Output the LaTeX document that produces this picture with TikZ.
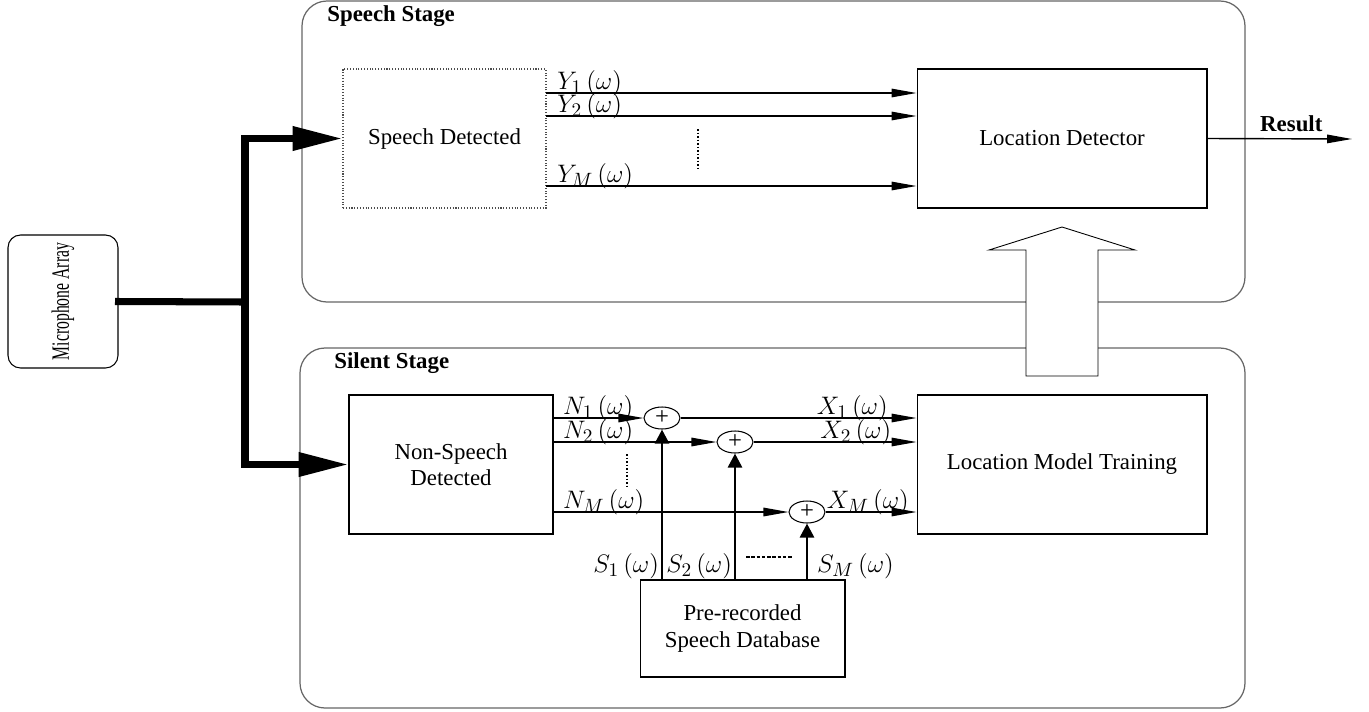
\documentclass[tikz,border=0pt]{standalone}
\usepackage{fontspec}
\setmainfont{Liberation Serif}
\usetikzlibrary{shapes.geometric, arrows.meta, positioning}

\begin{document}
\begin{tikzpicture}[
    x=0.02cm, y=-0.02cm,
    font=\fontsize{13}{15}\selectfont,
    block/.style={rectangle, draw, line width=0.6pt, align=center},
    stage/.style={draw=black!60, line width=0.7pt, rounded corners=0.5cm},
    stagelabel/.style={anchor=west, inner sep=0pt, font=\fontsize{13}{15}\selectfont\bfseries},
    sum/.style={ellipse, draw, line width=0.6pt, minimum width=0.72cm, minimum height=0.44cm, inner sep=0pt, font=\fontsize{14}{15}\selectfont},
    sig/.style={line width=0.8pt, -{Triangle[length=0.5cm, width=0.17cm]}},
    src/.style={line width=1.5pt, -{Triangle[length=0.28cm, width=0.28cm]}},
    bus/.style={line width=4pt, line cap=rect, line join=miter},
    sym/.style={font=\fontsize{15.5}{17}\selectfont, inner sep=1pt}
]
\useasboundingbox (0,0) rectangle (1369,711);

% Stages
\draw[stage] (302,1) rectangle (1245,302);
\node[stagelabel] (speechlbl) at (327,16) {Speech Stage};
\draw[stage] (300,348) rectangle (1245,708);
\node[stagelabel] (silentlbl) at (334,363) {Silent Stage};

% Blocks
\node[block, rounded corners=0.25cm, minimum width=2.2cm, minimum height=2.66cm, font=\fontsize{10.5}{12}\selectfont] (mic) at (63,301.5) {\rotatebox{90}{\scalebox{0.85}[1.35]{Microphone Array}}};
\node[block, draw=black!70, densely dotted, minimum width=4.06cm, minimum height=2.78cm] (speech) at (444.5,138.5) {Speech Detected};
\node[block, minimum width=5.8cm, minimum height=2.78cm] (locdet) at (1062,138.5) {Location Detector};
\node[block, minimum width=4.08cm, minimum height=2.78cm] (nonspeech) at (451,464.5) {Non-Speech\\Detected};
\node[block, minimum width=5.8cm, minimum height=2.78cm] (loctrain) at (1062,464.5) {Location Model Training};
\node[block, minimum width=4.1cm, minimum height=1.94cm] (db) at (742.5,628.5) {Pre-recorded\\Speech Database};

\node[sum] (sum1) at (662,418) {+};
\node[sum] (sum2) at (735,442) {+};
\node[sum] (sum3) at (807,512) {+};

% Microphone bus
\coordinate (split) at (245,302);
\draw[bus] (mic.east) -- (split);
\draw[bus, -{Triangle[length=1cm, width=0.46cm]}] (split) |- (speech.west);
\draw[bus, -{Triangle[length=1cm, width=0.46cm]}] (split) |- (nonspeech.west);

% Speech stage signals
\coordinate (y1) at (546,93);
\coordinate (y2) at (546,116);
\coordinate (ym) at (546,186);
\draw[sig] (y1) -- (y1 -| locdet.west) node[sym, pos=0, anchor=base west, xshift=5pt, yshift=2pt] {$Y_1\,(\omega)$};
\draw[sig] (y2) -- (y2 -| locdet.west) node[sym, pos=0, anchor=base west, xshift=5pt, yshift=2pt] {$Y_2\,(\omega)$};
\draw[sig] (ym) -- (ym -| locdet.west) node[sym, pos=0, anchor=base west, xshift=5pt, yshift=2pt] {$Y_M\,(\omega)$};
\draw[densely dotted, line width=1pt] (698,129) -- (698,170);

\coordinate (res) at (1352,139);
\draw[sig] (locdet.east) -- (res) node[pos=0.58, above, font=\fontsize{13}{15}\selectfont\bfseries] {Result};

% Silent stage signals
\draw[sig] (nonspeech.east |- sum1) -- (sum1) node[sym, pos=0, anchor=base west, xshift=4pt, yshift=2pt] {$N_1\,(\omega)$};
\draw[sig] (nonspeech.east |- sum2) -- (sum2) node[sym, pos=0, anchor=base west, xshift=4pt, yshift=2pt] {$N_2\,(\omega)$};
\draw[sig] (nonspeech.east |- sum3) -- (sum3) node[sym, pos=0, anchor=base west, xshift=4pt, yshift=2pt] {$N_M\,(\omega)$};
\draw[densely dotted, line width=1pt] (627,454) -- (627,488);

\draw[sig] (sum1) -- (sum1 -| loctrain.west) node[sym, pos=1, anchor=base east, xshift=-15pt, yshift=2pt] {$X_1\,(\omega)$};
\draw[sig] (sum2) -- (sum2 -| loctrain.west) node[sym, pos=1, anchor=base east, xshift=-13pt, yshift=2pt] {$X_2\,(\omega)$};
\draw[sig] (sum3) -- (sum3 -| loctrain.west) node[sym, pos=1, anchor=base east, xshift=-3pt, yshift=2pt] {$X_M\,(\omega)$};

\draw[src] (db.north -| sum1) -- (sum1) node[sym, pos=0, anchor=base east, yshift=4pt] {$S_1\,(\omega)$};
\draw[src] (db.north -| sum2) -- (sum2) node[sym, pos=0, anchor=base east, yshift=4pt] {$S_2\,(\omega)$};
\draw[src] (db.north -| sum3) -- (sum3) node[sym, pos=0, anchor=base west, xshift=4pt, yshift=4pt] {$S_M\,(\omega)$};
\draw[dashed, line width=0.8pt, dash pattern=on 2pt off 1pt] (746,557) -- (793,557);

% Hollow arrow
\draw[line width=0.5pt, fill=white] (1026,376) -- (1026,250) -- (989,250) -- (1062,227) -- (1135,250) -- (1098,250) -- (1098,376) -- cycle;

\end{tikzpicture}
\end{document}
